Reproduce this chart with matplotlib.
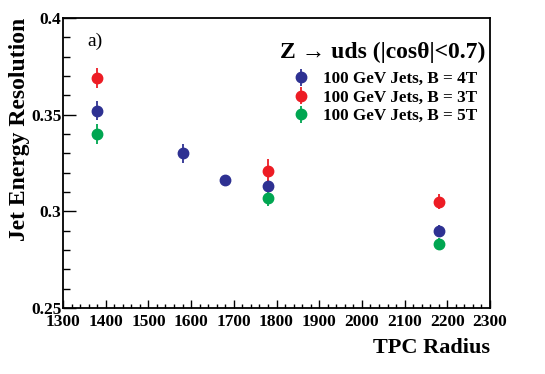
import matplotlib
matplotlib.use("Agg")
import matplotlib.pyplot as plt
from matplotlib.ticker import MultipleLocator

# data
radius_4t = [1380, 1580, 1680, 1780, 2180]
res_4t = [0.352, 0.330, 0.316, 0.313, 0.290]
err_4t = [0.005, 0.005, 0.003, 0.003, 0.003]

radius_3t = [1380, 1780, 2180]
res_3t = [0.369, 0.321, 0.305]
err_3t = [0.005, 0.006, 0.004]

radius_5t = [1380, 1780, 2180]
res_5t = [0.340, 0.307, 0.283]
err_5t = [0.005, 0.004, 0.003]

labels = ["100 GeV Jets, B = 4T", "100 GeV Jets, B = 3T", "100 GeV Jets, B = 5T"]
colors = ["#2e3192", "#ed1c24", "#00a651"]

plt.rcParams["font.family"] = ["Liberation Serif", "DejaVu Serif"]
plt.rcParams["font.weight"] = "bold"

fig = plt.figure(figsize=(5.45, 3.74), dpi=100)
ax = fig.add_axes([63 / 545, 1 - 308 / 374, 427 / 545, 290 / 374])

series = [(radius_4t, res_4t, err_4t), (radius_3t, res_3t, err_3t),
          (radius_5t, res_5t, err_5t)]
handles = []
for (x, y, e), c, lab in zip(series, colors, labels):
    h = ax.errorbar(x, y, yerr=e, fmt="o", color=c, ms=7.5, elinewidth=1.3,
                    capsize=0, label=lab)
    handles.append(h)

ax.set_xlim(1300, 2300)
ax.set_ylim(0.25, 0.4)
ax.xaxis.set_minor_locator(MultipleLocator(20))
ax.yaxis.set_minor_locator(MultipleLocator(0.01))
ax.set_xticks([1300, 1400, 1500, 1600, 1700, 1800, 1900, 2000, 2100, 2200, 2300])
ax.set_xticklabels(["1300", "1400", "1500", "1600", "1700", "1800", "1900",
                    "2000", "2100", "2200", "2300"])
ax.set_yticks([0.25, 0.3, 0.35, 0.4])
ax.set_yticklabels(["0.25", "0.3", "0.35", "0.4"])
ax.tick_params(which="both", direction="in", labelsize=12.5, width=1)
ax.tick_params(axis="x", which="major", length=6, pad=4)
ax.tick_params(axis="x", which="minor", length=3)
ax.tick_params(axis="y", which="major", length=9.5, pad=1)
ax.tick_params(axis="y", which="minor", length=4.7)
for s in ax.spines.values():
    s.set_linewidth(1.3)

ax.set_xlabel("TPC Radius", fontsize=16, fontweight="bold", loc="right",
              labelpad=6)
ax.set_ylabel("Jet Energy Resolution", fontsize=17, fontweight="bold",
              loc="top", labelpad=1)

ax.text(0.057, 0.92, "a)", transform=ax.transAxes, fontsize=14,
        fontweight="normal", va="center")
ax.text(0.99, 0.88, "Z \u2192 uds (|cos\u03b8|<0.7)", transform=ax.transAxes,
        fontsize=17, fontweight="bold", ha="right", va="center")

ax.legend(handles=handles, loc="upper right", bbox_to_anchor=(0.985, 0.84),
          frameon=False, fontsize=12.3, handletextpad=0.75, labelspacing=0.15,
          handlelength=1.0, borderaxespad=0)

fig.savefig("out.png", dpi=100)
